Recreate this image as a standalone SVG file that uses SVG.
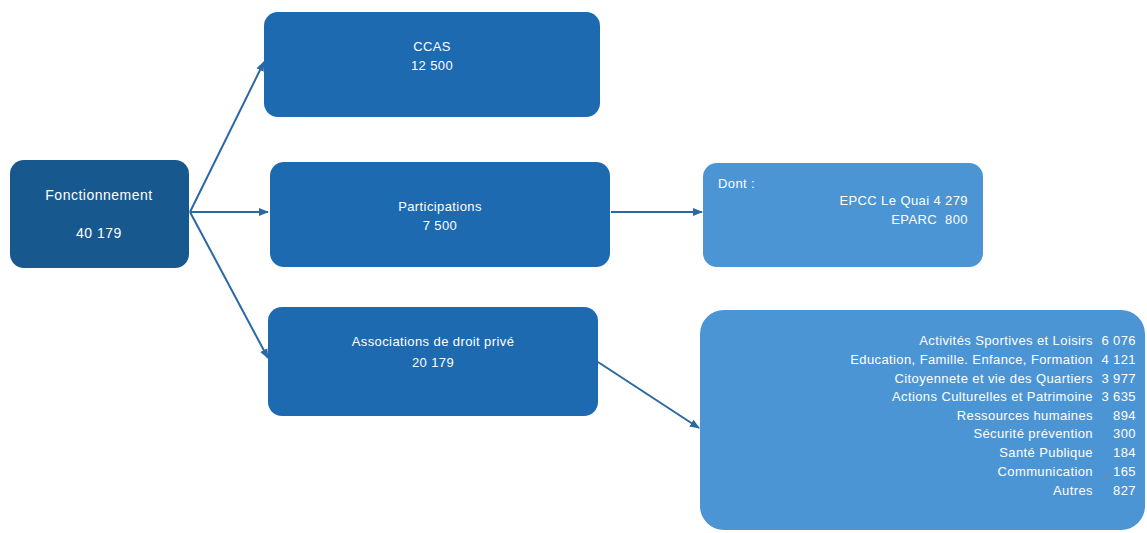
<svg xmlns="http://www.w3.org/2000/svg" width="1147" height="533" viewBox="0 0 1147 533">
<defs>
<marker id="ah" viewBox="0 0 10 10" refX="9" refY="5" markerWidth="5" markerHeight="5" orient="auto">
<path d="M0,1 L10,5 L0,9 z" fill="#2a68a4"/>
</marker>
<style>
.dark{fill:#17588f;}
.mid{fill:#1d6ab1;}
.light{fill:#4c95d5;}
text{font-family:"Liberation Sans",Arial,sans-serif;font-size:13px;letter-spacing:0.4px;fill:#ffffff;}
.big{font-size:14px;letter-spacing:0.5px;}
.c{text-anchor:middle;}
.r{text-anchor:end;}
.conn{stroke:#2a68a4;stroke-width:2;fill:none;marker-end:url(#ah);}
</style>
</defs>
<rect width="1147" height="533" fill="#ffffff"/>
<g id="connectors">
<line class="conn" x1="190" y1="212" x2="264" y2="62"/>
<line class="conn" x1="190" y1="212" x2="268" y2="212"/>
<line class="conn" x1="190" y1="212" x2="268" y2="358"/>
<line class="conn" x1="611" y1="212" x2="702" y2="212"/>
<line class="conn" x1="598" y1="362" x2="699" y2="428"/>
</g>
<g id="fonctionnement">
<rect class="dark" x="10" y="160" width="179" height="108" rx="14"/>
<text class="c big" x="99" y="200">Fonctionnement</text>
<text class="c big" x="99" y="238">40 179</text>
</g>
<g id="ccas">
<rect class="mid" x="264" y="12" width="336" height="105" rx="14"/>
<text class="c" x="432" y="51">CCAS</text>
<text class="c" x="432" y="70">12 500</text>
</g>
<g id="participations">
<rect class="mid" x="270" y="162" width="340" height="105" rx="14"/>
<text class="c" x="440" y="211">Participations</text>
<text class="c" x="440" y="230">7 500</text>
</g>
<g id="dont">
<rect class="light" x="703" y="163" width="280" height="104" rx="14"/>
<text x="718" y="188">Dont :</text>
<text class="r" x="968" y="205">EPCC Le Quai 4 279</text>
<text class="r" x="968" y="224" xml:space="preserve">EPARC  800</text>
</g>
<g id="associations">
<rect class="mid" x="268" y="307" width="330" height="109" rx="14"/>
<text class="c" x="433" y="346">Associations de droit privé</text>
<text class="c" x="433" y="367">20 179</text>
</g>
<g id="detail">
<rect class="light" x="700" y="310" width="445" height="220" rx="24"/>
<text class="r" x="1093" y="345">Activités Sportives et Loisirs</text><text class="r" x="1136" y="345">6 076</text>
<text class="r" x="1093" y="364">Education, Famille. Enfance, Formation</text><text class="r" x="1136" y="364">4 121</text>
<text class="r" x="1093" y="383">Citoyennete et vie des Quartiers</text><text class="r" x="1136" y="383">3 977</text>
<text class="r" x="1093" y="401">Actions Culturelles et Patrimoine</text><text class="r" x="1136" y="401">3 635</text>
<text class="r" x="1093" y="420">Ressources humaines</text><text class="r" x="1136" y="420">894</text>
<text class="r" x="1093" y="438">Sécurité prévention</text><text class="r" x="1136" y="438">300</text>
<text class="r" x="1093" y="457">Santé Publique</text><text class="r" x="1136" y="457">184</text>
<text class="r" x="1093" y="476">Communication</text><text class="r" x="1136" y="476">165</text>
<text class="r" x="1093" y="495">Autres</text><text class="r" x="1136" y="495">827</text>
</g>
</svg>
